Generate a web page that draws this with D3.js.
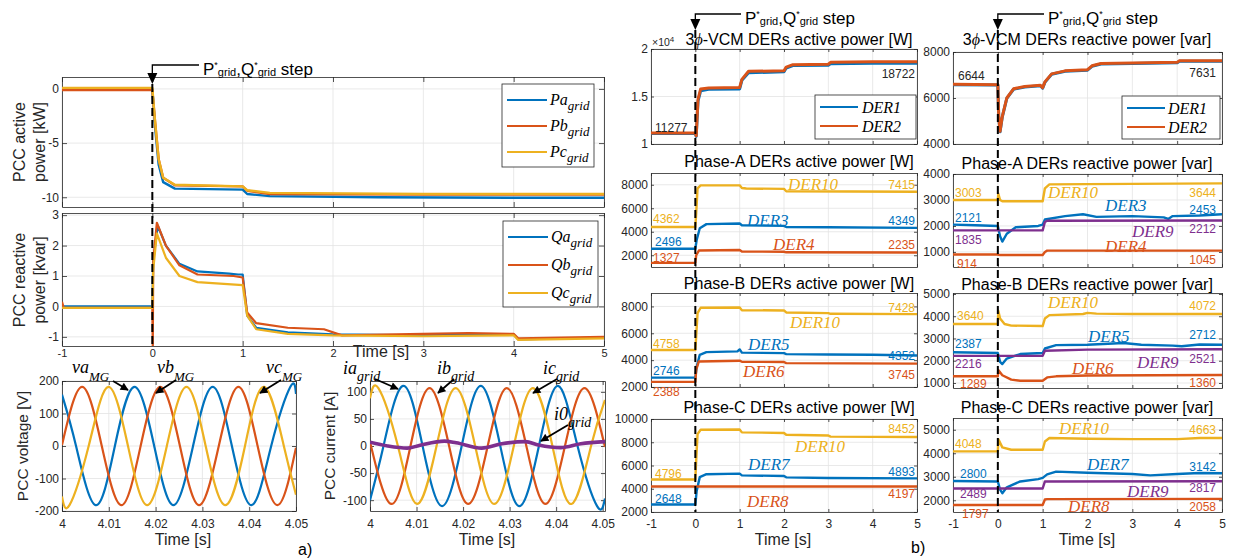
<!DOCTYPE html>
<html>
<head>
<meta charset="utf-8">
<script src="https://cdn.jsdelivr.net/npm/d3@7"></script>
<style>
body { margin: 0; background: #fff; }
svg { display: block; }
</style>
</head>
<body>
<svg id="fig" width="1236" height="558"></svg>
<script>
// ---------- data ----------
const time = [-1, 0, 1, 2, 3, 4, 5];

// a) PCC active power per phase [kW]
const Pa = [[-1,0],[0,-0.05],[0.03,-3.5],[0.07,-7],[0.12,-8.6],[0.25,-9.2],[1,-9.3],[1.05,-9.7],[1.3,-9.9],[2.5,-10.0],[4,-10.05],[5,-10.05]];
const Pb = [[-1,-0.1],[0,-0.1],[0.03,-3],[0.07,-6.5],[0.12,-8.2],[0.25,-8.9],[1,-9.0],[1.05,-9.4],[1.3,-9.7],[3,-9.75],[5,-9.75]];
const Pc = [[-1,0.1],[0,0.1],[0.03,-3],[0.07,-6.5],[0.12,-8.2],[0.25,-8.85],[1,-9.0],[1.05,-9.35],[1.3,-9.6],[3,-9.7],[5,-9.7]];
// a) PCC reactive power per phase [kvar]
const Qa = [[-1,0],[0,0],[0.01,1.5],[0.06,2.65],[0.15,2.0],[0.3,1.4],[0.5,1.15],[0.85,1.08],[0.95,1.05],[1,1.05],[1.05,-0.3],[1.15,-0.7],[1.5,-0.85],[2,-0.92],[3,-0.95],[4,-0.92],[4.05,-1.08],[5,-1.02]];
const Qb = [[-1,0.15],[-0.98,-0.05],[0,-0.05],[0.005,-1.3],[0.01,1.5],[0.05,2.75],[0.15,2.0],[0.3,1.35],[0.5,1.05],[0.9,1.0],[1,0.95],[1.05,-0.2],[1.15,-0.55],[1.5,-0.7],[1.9,-0.75],[2.1,-0.95],[3,-0.9],[3.5,-0.88],[4,-0.9],[4.05,-1.05],[5,-1.0]];
const Qc = [[-1,-0.05],[0,-0.05],[0.01,1.2],[0.05,2.4],[0.15,1.6],[0.3,1.0],[0.5,0.8],[1,0.7],[1.05,-0.3],[1.15,-0.75],[1.5,-0.9],[2,-0.95],[3,-0.98],[4,-0.95],[4.05,-1.1],[5,-1.05]];
const pTicks = [-10, -5, 0];
const qTicks = [-1, 0, 1, 2, 3];

// a) PCC voltage / current waveforms (peaks and zero crossings)
const cycTicks = [4, 4.01, 4.02, 4.03, 4.04, 4.05];
const vTicks = [-200, -100, 0, 100, 200];
const iTicks = [-100, -50, 0, 50, 100];
const va = [[4,158],[4.003,0],[4.0072,-182],[4.0113,0],[4.0155,182],[4.0197,0],[4.0238,-182],[4.028,0],[4.0322,182],[4.0363,0],[4.0405,-182],[4.0447,0],[4.0488,182],[4.05,160]];
const vb = [[4,3],[4.0043,182],[4.0085,0],[4.0127,-182],[4.0168,0],[4.021,182],[4.0252,0],[4.0293,-182],[4.0335,0],[4.0377,182],[4.0418,0],[4.046,-182],[4.05,-5]];
const vc = [[4,-155],[4.0016,-182],[4.0057,0],[4.0099,182],[4.0141,0],[4.0182,-182],[4.0224,0],[4.0266,182],[4.0307,0],[4.0349,-182],[4.0391,0],[4.0432,182],[4.0474,0],[4.05,-150]];
const ia = [[4,-100],[4.0029,0],[4.0071,111],[4.0113,0],[4.0155,-111],[4.0197,0],[4.0238,111],[4.028,0],[4.0321,-111],[4.0363,0],[4.0404,111],[4.0446,0],[4.0488,-111],[4.0505,-97]];
const ib = [[4,8],[4.0046,-107],[4.0087,0],[4.0128,107],[4.017,0],[4.0211,-107],[4.0253,0],[4.0294,107],[4.0336,0],[4.0377,-107],[4.0419,0],[4.0461,107],[4.0505,-2]];
const ic = [[4,88],[4.0018,107],[4.006,0],[4.0101,-107],[4.0143,0],[4.0184,107],[4.0226,0],[4.0267,-107],[4.0309,0],[4.035,107],[4.0392,0],[4.0433,-107],[4.0475,0],[4.0505,85]];
const i0 = [[4,7],[4.0038,0],[4.008,-4],[4.0106,1],[4.016,9],[4.0185,6],[4.024,-4],[4.0283,4],[4.0334,8],[4.0362,2],[4.041,-3],[4.0453,4],[4.0505,8]];

// b) 3-phase VCM DERs
const vcmP1 = [[-1,11100],[0,11100],[0.02,10800],[0.06,14500],[0.12,15600],[0.3,15750],[1,15800],[1.05,16700],[1.2,17500],[2,17600],[2.05,18000],[2.2,18250],[3,18300],[3.05,18450],[4,18500],[5,18500]];
const vcmP2 = [[-1,11150],[0,11150],[0.02,10850],[0.06,14700],[0.12,15800],[0.3,15900],[1,15950],[1.05,16800],[1.2,17650],[2,17700],[2.05,18100],[2.2,18350],[3,18400],[3.05,18600],[4,18650],[5,18650]];
const vcmQ2 = [[-1,6600],[0,6580],[0.02,5200],[0.05,4550],[0.1,5200],[0.2,6000],[0.35,6400],[0.6,6500],[0.95,6550],[1,6450],[1.05,6700],[1.2,7050],[1.5,7180],[2,7230],[2.1,7400],[2.3,7500],[3,7520],[4,7550],[4.05,7620],[5,7620]];
const vcmQ1 = [[-1,6580],[0,6560],[0.02,5180],[0.05,4530],[0.1,5180],[0.2,5980],[0.35,6380],[0.6,6480],[0.95,6530],[1,6430],[1.05,6680],[1.2,7030],[1.5,7160],[2,7210],[2.1,7380],[2.3,7480],[3,7500],[4,7530],[4.05,7600],[5,7600]];
const vcmPTicks = [10000, 15000, 20000];
const vcmQTicks = [4000, 6000, 8000];
const vcmPText = ['11277', '18722'];
const vcmQText = ['6644', '7631'];

// b) single-phase DERs active power [W]
const pA10 = [[-1,4400],[0,4400],[0.02,5600],[0.05,7700],[0.12,7950],[1,7950],[1.05,7720],[1.15,7680],[2,7650],[2.05,7450],[5,7400]];
const pA3 = [[-1,2550],[0,2550],[0.03,3300],[0.1,4300],[0.25,4650],[1,4700],[1.05,4550],[2,4500],[2.05,4400],[3,4380],[5,4330]];
const pA4 = [[-1,1350],[0,1350],[0.02,2000],[0.08,2400],[1,2450],[1.05,2320],[2,2300],[2.05,2250],[5,2240]];
const pB10 = [[-1,4750],[0,4750],[0.02,5800],[0.05,7500],[0.12,7900],[1,7920],[1.05,7720],[2,7700],[2.05,7550],[3,7500],[3.05,7450],[5,7430]];
const pB5 = [[-1,2700],[0,2700],[0.03,3500],[0.1,4400],[0.25,4600],[0.95,4650],[1,4800],[1.05,4560],[2,4520],[2.05,4450],[3,4420],[4,4400],[5,4350]];
const pB6 = [[-1,2380],[0,2380],[0.02,3300],[0.08,3900],[1,3960],[1.05,3880],[2,3860],[2.05,3780],[5,3740]];
const pC10 = [[-1,4800],[0,4800],[0.02,6500],[0.05,8700],[0.12,9080],[1,9100],[1.05,8850],[2,8800],[2.05,8650],[3,8580],[3.05,8480],[5,8450]];
const pC7 = [[-1,2640],[0,2640],[0.03,3800],[0.1,5000],[0.25,5250],[1,5300],[1.05,5150],[2,5100],[2.05,4980],[3,4930],[5,4890]];
const pC8 = [[-1,4200],[0,4200],[1,4200],[5,4200]];
const pATicks = [2000, 4000, 6000, 8000];
const pBTicks = [2000, 4000, 6000, 8000];
const pCTicks = [2000, 4000, 6000, 8000, 10000];
const pAText = ['4362', '2496', '1327', '7415', '4349', '2235'];
const pBText = ['4758', '2746', '2388', '7428', '4352', '3745'];
const pCText = ['4796', '2648', '8452', '4893', '4197'];

// b) single-phase DERs reactive power [var]
const qA10 = [[-1,3000],[0,3000],[0.01,3250],[0.05,3000],[0.1,2950],[1,2950],[1.05,3450],[1.15,3600],[2,3610],[3,3620],[5,3640]];
const qA3 = [[-1,2050],[-0.5,2030],[0,2000],[0.05,1600],[0.1,1400],[0.2,1700],[0.4,1950],[0.9,2000],[1,2050],[1.05,2250],[1.5,2380],[1.9,2450],[2.2,2350],[3,2380],[3.7,2330],[3.8,2270],[3.9,2380],[4.5,2400],[5,2450]];
const qA9 = [[-1,1830],[1,1830],[1.05,2150],[1.1,2200],[5,2210]];
const qA4 = [[-1,900],[0,900],[0.05,880],[1,880],[1.05,1000],[1.1,1050],[5,1050]];
const qB10 = [[-1,3650],[0,3650],[0.01,4250],[0.05,3900],[0.15,3650],[0.3,3580],[1,3560],[1.05,3900],[1.15,4050],[1.9,4100],[2,4150],[2.2,4120],[3,4100],[5,4100]];
const qB5 = [[-1,2380],[0,2350],[0.05,1950],[0.1,1850],[0.2,2100],[0.5,2300],[1,2350],[1.05,2550],[1.3,2700],[2,2720],[2.8,2800],[3.2,2720],[3.9,2680],[4.1,2650],[4.5,2730],[5,2720]];
const qB9 = [[-1,2220],[1,2220],[1.05,2450],[2,2500],[5,2520]];
const qB6 = [[-1,1300],[0,1300],[0.01,1580],[0.1,1350],[0.3,1150],[0.5,1100],[1,1100],[1.1,1250],[1.3,1300],[2,1340],[5,1360]];
const qC10 = [[-1,4080],[0,4080],[0.01,4600],[0.1,4250],[0.3,4150],[1,4150],[1.05,4500],[1.15,4650],[2,4620],[3,4600],[4,4600],[4.5,4650],[5,4650]];
const qC7 = [[-1,2820],[0,2800],[0.05,2450],[0.1,2300],[0.2,2550],[0.5,2800],[0.9,2900],[1,2950],[1.1,3100],[1.3,3220],[2,3170],[3,3120],[3.4,3060],[4,3120],[4.5,3160],[5,3150]];
const qC9 = [[-1,2500],[1,2500],[1.05,2800],[5,2810]];
const qC8 = [[-1,1800],[1,1800],[1.05,2030],[1.1,2050],[5,2060]];
const qATicks = [1000, 2000, 3000, 4000];
const qBTicks = [1000, 2000, 3000, 4000, 5000];
const qCTicks = [2000, 3000, 4000, 5000];
const qAText = ['3003', '2121', '1835', '914', '3644', '2453', '2212', '1045'];
const qBText = ['3640', '2387', '2216', '1289', '4072', '2712', '2521', '1360'];
const qCText = ['4048', '2800', '2489', '1797', '4663', '3142', '2817', '2058'];

// ---------- drawing ----------
const BLUE = '#0072BD', RED = '#D95319', YEL = '#EDB120', PUR = '#7E2F8E', INK = '#262626';
const SANS = '"Liberation Sans", Arial, Helvetica, sans-serif';
const SERIF = '"Liberation Serif", "Times New Roman", serif';

const svg = d3.select('#fig');
const defs = svg.append('defs');
defs.append('marker')
    .attr('id', 'ah')
    .attr('viewBox', '0 0 10 10')
    .attr('refX', 9).attr('refY', 5)
    .attr('markerWidth', 5).attr('markerHeight', 4.5)
    .attr('orient', 'auto')
    .append('path').attr('d', 'M0,0L10,5L0,10z').attr('fill', '#000');

let clipN = 0;
function styleAxis(sel, fs) {
    sel.attr('font-family', SANS).attr('font-size', fs).attr('color', INK);
    sel.select('.domain').attr('stroke-width', 0.8);
    sel.selectAll('.tick line').attr('stroke-width', 0.8);
}

function panel(o) {
    const x = d3.scaleLinear().domain(o.xd).range([o.l, o.r]);
    const y = d3.scaleLinear().domain(o.yd).range([o.b, o.t]);
    const g = svg.append('g');
    const id = 'clip' + (clipN++);
    defs.append('clipPath').attr('id', id).append('rect')
        .attr('x', o.l).attr('y', o.t).attr('width', o.r - o.l).attr('height', o.b - o.t);

    // grid
    g.append('g').selectAll('line').data(o.xt).join('line')
        .attr('x1', d => x(d)).attr('x2', d => x(d)).attr('y1', o.t).attr('y2', o.b)
        .attr('stroke', '#e3e3e3').attr('stroke-width', 0.8);
    g.append('g').selectAll('line').data(o.yt).join('line')
        .attr('y1', d => y(d)).attr('y2', d => y(d)).attr('x1', o.l).attr('x2', o.r)
        .attr('stroke', '#e3e3e3').attr('stroke-width', 0.8);

    const tk = o.tk || 4, fs = o.fs || 12;
    const fmtX = o.xlab ? (o.xfmt || (d => String(d))) : () => '';
    g.append('g').attr('transform', `translate(0,${o.b})`)
        .call(d3.axisBottom(x).tickValues(o.xt).tickSizeInner(-tk).tickSizeOuter(0).tickPadding(o.xpad || 4).tickFormat(fmtX))
        .call(styleAxis, o.xfs || fs);
    g.append('g').attr('transform', `translate(0,${o.t})`)
        .call(d3.axisTop(x).tickValues(o.xt).tickSizeInner(-tk).tickSizeOuter(0).tickFormat(() => ''))
        .call(styleAxis, fs);
    g.append('g').attr('transform', `translate(${o.l},0)`)
        .call(d3.axisLeft(y).tickValues(o.yt).tickSizeInner(-tk).tickSizeOuter(0).tickPadding(3).tickFormat(o.yfmt || (d => String(d))))
        .call(styleAxis, fs);
    g.append('g').attr('transform', `translate(${o.r},0)`)
        .call(d3.axisRight(y).tickValues(o.yt).tickSizeInner(-tk).tickSizeOuter(0).tickFormat(() => ''))
        .call(styleAxis, fs);

    const line = d3.line().x(d => x(d[0])).y(d => y(d[1])).curve(o.curve || d3.curveLinear);
    const lg = g.append('g').attr('clip-path', `url(#${id})`);
    o.series.forEach(s => {
        lg.append('path').attr('d', (s.curve ? line.curve(s.curve) : line)(s.data))
            .attr('fill', 'none').attr('stroke', s.c).attr('stroke-width', s.w || 2)
            .attr('stroke-linejoin', 'round');
        line.curve(o.curve || d3.curveLinear);
    });
    return { x, y };
}

function txt(x, y, s, o = {}) {
    return svg.append('text').attr('x', x).attr('y', y)
        .attr('font-family', o.serif ? SERIF : SANS)
        .attr('font-style', o.serif ? 'italic' : null)
        .attr('font-size', o.size || 12)
        .attr('fill', o.color || INK)
        .attr('text-anchor', o.anchor || 'start')
        .text(s);
}

function subTxt(x, y, main, sub, size, subSize, dy, color) {
    const t = svg.append('text').attr('x', x).attr('y', y)
        .attr('font-family', SERIF).attr('font-style', 'italic')
        .attr('font-size', size).attr('fill', color || '#000');
    t.append('tspan').text(main);
    t.append('tspan').attr('font-size', subSize).attr('dy', dy).text(sub);
    return t;
}

function yLabel(x, y, lines, size, gap) {
    const t = svg.append('text').attr('transform', `translate(${x},${y}) rotate(-90)`)
        .attr('text-anchor', 'middle').attr('font-family', SANS).attr('font-size', size).attr('fill', INK);
    lines.forEach((s, i) => t.append('tspan').attr('x', 0).attr('dy', i ? gap : 0).text(s));
}

function stepNote(x0, yLine, tip, tx, ty) {
    svg.append('path').attr('d', `M${tx - 4},${yLine}H${x0}V${tip - 10}`)
        .attr('fill', 'none').attr('stroke', '#000').attr('stroke-width', 1.3);
    svg.append('path').attr('d', `M${x0 - 5},${tip - 11}H${x0 + 5}L${x0},${tip}Z`).attr('fill', '#000');
    const t = svg.append('text').attr('x', tx).attr('y', ty).attr('font-family', SANS)
        .attr('font-size', 17).attr('fill', '#000');
    t.append('tspan').text('P');
    t.append('tspan').attr('font-size', 9).attr('dy', -7).text('*');
    t.append('tspan').attr('font-size', 11).attr('dy', 8).text('grid');
    t.append('tspan').attr('dy', -1).text(',Q');
    t.append('tspan').attr('font-size', 9).attr('dy', -7).text('*');
    t.append('tspan').attr('font-size', 11).attr('dy', 8).text('grid');
    t.append('tspan').attr('dy', -1).text(' step');
}

function legendBox(x0, y0, x1, y1, items, lx0, lx1, tx) {
    svg.append('rect').attr('x', x0).attr('y', y0).attr('width', x1 - x0).attr('height', y1 - y0)
        .attr('fill', '#fff').attr('stroke', INK).attr('stroke-width', 0.8);
    items.forEach(it => {
        svg.append('line').attr('x1', lx0).attr('x2', lx1).attr('y1', it.y).attr('y2', it.y)
            .attr('stroke', it.c).attr('stroke-width', 2.2);
        if (it.sub) subTxt(tx, it.y + 5, it.main, it.sub, 16, 13, 5);
        else txt(tx, it.y + 6, it.main, { serif: true, size: 16, color: '#000' });
    });
}

function arrow(x1, y1, x2, y2) {
    svg.append('line').attr('x1', x1).attr('y1', y1).attr('x2', x2).attr('y2', y2)
        .attr('stroke', '#000').attr('stroke-width', 1.8).attr('marker-end', 'url(#ah)');
}

// ----- a) left column -----
const LT = panel({ l: 62, r: 604, t: 77, b: 207, xd: [-1, 5], yd: [-10.9, 1.1], xt: time, yt: pTicks, tk: 5,
    series: [{ data: Pa, c: BLUE, w: 2.4 }, { data: Pb, c: RED, w: 2.4 }, { data: Pc, c: YEL, w: 2.4 }] });
const LM = panel({ l: 62, r: 604, t: 213, b: 346, xd: [-1, 5], yd: [-1.3, 3.07], xt: time, yt: qTicks, tk: 5,
    xlab: true, xfs: 11, xpad: 3,
    series: [{ data: Qa, c: BLUE, w: 2.2 }, { data: Qb, c: RED, w: 2.2 }, { data: Qc, c: YEL, w: 2.2 }] });
legendBox(502, 84, 594, 167, [
    { y: 100, c: BLUE, main: 'Pa', sub: 'grid' },
    { y: 126, c: RED, main: 'Pb', sub: 'grid' },
    { y: 152, c: YEL, main: 'Pc', sub: 'grid' }], 507, 547, 550);
legendBox(503, 221, 598, 307, [
    { y: 237, c: BLUE, main: 'Qa', sub: 'grid' },
    { y: 265, c: RED, main: 'Qb', sub: 'grid' },
    { y: 293, c: YEL, main: 'Qc', sub: 'grid' }], 508, 548, 551);
yLabel(25, 142, ['PCC active', 'power [kW]'], 16, 20);
yLabel(25, 280, ['PCC reactive', 'power [kvar]'], 16, 20);
txt(381, 357, 'Time [s]', { size: 16, anchor: 'middle' });

const LV = panel({ l: 62, r: 296, t: 381, b: 511, xd: [4, 4.05], yd: [-200, 200], xt: cycTicks, yt: vTicks,
    xlab: true, xpad: 8, curve: d3.curveNatural,
    series: [{ data: va, c: BLUE, w: 2.2 }, { data: vb, c: RED, w: 2.2 }, { data: vc, c: YEL, w: 2.2 }] });
const LI = panel({ l: 370, r: 605, t: 381, b: 511, xd: [4, 4.0505], yd: [-120, 120], xt: cycTicks, yt: iTicks,
    xlab: true, xpad: 8, curve: d3.curveNatural,
    series: [{ data: ia, c: BLUE, w: 2.2 }, { data: ib, c: RED, w: 2.2 }, { data: ic, c: YEL, w: 2.2 },
             { data: i0, c: PUR, w: 3.6, curve: d3.curveMonotoneX }] });
yLabel(28, 446, ['PCC voltage [V]'], 15.5, 0);
yLabel(335, 446, ['PCC current [A]'], 15.5, 0);
txt(183, 545, 'Time [s]', { size: 16, anchor: 'middle' });
txt(487, 545, 'Time [s]', { size: 16, anchor: 'middle' });
txt(298, 555, 'a)', { size: 16, color: '#000' });

subTxt(72, 373, 'va', 'MG', 18, 13, 8);
subTxt(157, 373, 'vb', 'MG', 18, 13, 8);
subTxt(266, 373, 'vc', 'MG', 18, 13, 8);
arrow(113, 381, 128, 390);
arrow(176, 380, 156, 393);
arrow(281, 380, 260, 393);
subTxt(343, 374, 'ia', 'grid', 18, 14, 7);
subTxt(437, 374, 'ib', 'grid', 18, 14, 7);
subTxt(543, 374, 'ic', 'grid', 18, 14, 7);
subTxt(554, 420, 'i0', 'grid', 18, 14, 7);
arrow(375, 379, 398, 389);
arrow(454, 379, 438, 393);
arrow(557, 379, 533, 393);
arrow(568, 425, 541, 441);

// dashed step markers and notes (left)
svg.append('line').attr('x1', LT.x(0)).attr('x2', LT.x(0)).attr('y1', 84).attr('y2', 346)
    .attr('stroke', '#000').attr('stroke-width', 2).attr('stroke-dasharray', '8,4');
stepNote(LT.x(0), 65, 84, 203, 75);

// ----- b) column 1: active power -----
const C1 = { l: 651, r: 917 };
const R1 = panel({ ...C1, t: 49, b: 144, xd: [-1, 5], yd: [10000, 20000], xt: time, yt: vcmPTicks, tk: 3,
    yfmt: d => String(d / 10000),
    series: [{ data: vcmP1, c: BLUE, w: 3 }, { data: vcmP2, c: RED, w: 3 }] });
const RA = panel({ ...C1, t: 173, b: 267, xd: [-1, 5], yd: [1000, 9000], xt: time, yt: pATicks, tk: 3,
    series: [{ data: pA10, c: YEL, w: 2.4 }, { data: pA3, c: BLUE, w: 2.4 }, { data: pA4, c: RED, w: 2.4 }] });
const RB = panel({ ...C1, t: 293, b: 387, xd: [-1, 5], yd: [2000, 9000], xt: time, yt: pBTicks, tk: 3,
    series: [{ data: pB10, c: YEL, w: 2.4 }, { data: pB5, c: BLUE, w: 2.4 }, { data: pB6, c: RED, w: 2.4 }] });
const RC = panel({ ...C1, t: 419, b: 512, xd: [-1, 5], yd: [2000, 10000], xt: time, yt: pCTicks, tk: 3,
    xlab: true, xpad: 7,
    series: [{ data: pC10, c: YEL, w: 2.4 }, { data: pC7, c: BLUE, w: 2.4 }, { data: pC8, c: RED, w: 2.4 }] });

// ----- b) column 2: reactive power -----
const C2 = { l: 953, r: 1222 };
const S1 = panel({ ...C2, t: 52, b: 144, xd: [-1, 5], yd: [4000, 8000], xt: time, yt: vcmQTicks, tk: 3,
    series: [{ data: vcmQ1, c: BLUE, w: 3 }, { data: vcmQ2, c: RED, w: 3 }] });
const SA = panel({ ...C2, t: 174, b: 267, xd: [-1, 5], yd: [420, 4000], xt: time, yt: qATicks, tk: 3,
    series: [{ data: qA10, c: YEL, w: 2.4 }, { data: qA3, c: BLUE, w: 2.4 }, { data: qA9, c: PUR, w: 2.4 }, { data: qA4, c: RED, w: 2.4 }] });
const SB = panel({ ...C2, t: 293, b: 388, xd: [-1, 5], yd: [775, 5045], xt: time, yt: qBTicks, tk: 3,
    series: [{ data: qB10, c: YEL, w: 2.4 }, { data: qB5, c: BLUE, w: 2.4 }, { data: qB9, c: PUR, w: 2.4 }, { data: qB6, c: RED, w: 2.4 }] });
const SC = panel({ ...C2, t: 418, b: 512, xd: [-1, 5], yd: [1500, 5500], xt: time, yt: qCTicks, tk: 3,
    xlab: true, xpad: 7,
    series: [{ data: qC10, c: YEL, w: 2.4 }, { data: qC7, c: BLUE, w: 2.4 }, { data: qC9, c: PUR, w: 2.4 }, { data: qC8, c: RED, w: 2.4 }] });

// titles
function phiTitle(cx, y, rest) {
    const t = svg.append('text').attr('x', cx).attr('y', y).attr('text-anchor', 'middle')
        .attr('font-family', SANS).attr('font-size', 16).attr('fill', '#000');
    t.append('tspan').text('3');
    t.append('tspan').attr('font-family', SERIF).attr('font-style', 'italic').text('\u03D5');
    t.append('tspan').text(rest);
}
phiTitle(799, 45, '-VCM DERs active power [W]');
phiTitle(1087, 45, '-VCM DERs reactive power [var]');
txt(799, 167, 'Phase-A DERs active power  [W]', { size: 16, anchor: 'middle', color: '#000' });
txt(799, 289, 'Phase-B DERs active power [W]', { size: 16, anchor: 'middle', color: '#000' });
txt(799, 413, 'Phase-C DERs active power [W]', { size: 16, anchor: 'middle', color: '#000' });
txt(1087, 169, 'Phase-A DERs reactive power [var]', { size: 16, anchor: 'middle', color: '#000' });
txt(1087, 290, 'Phase-B DERs reactive power [var]', { size: 16, anchor: 'middle', color: '#000' });
txt(1087, 413, 'Phase-C DERs reactive power [var]', { size: 16, anchor: 'middle', color: '#000' });

const e4 = txt(652, 46, '\u00D710', { size: 10.5 });
e4.append('tspan').attr('font-size', 8).attr('dy', -4).text('4');

legendBox(815, 95, 916, 139, [{ y: 107, c: BLUE, main: 'DER1' }, { y: 126, c: RED, main: 'DER2' }], 820, 858, 862);
legendBox(1122, 96, 1220, 139, [{ y: 108, c: BLUE, main: 'DER1' }, { y: 127, c: RED, main: 'DER2' }], 1127, 1165, 1168);

txt(783, 545, 'Time [s]', { size: 16, anchor: 'middle' });
txt(1087, 545, 'Time [s]', { size: 16, anchor: 'middle' });
txt(911, 553, 'b)', { size: 16, color: '#000' });

// value labels
txt(655, 132, vcmPText[0], {});
txt(915, 78, vcmPText[1], { anchor: 'end' });
txt(958, 80, vcmQText[0], {});
txt(1216, 77, vcmQText[1], { anchor: 'end' });

[[653, 223, YEL, 'start'], [655, 246, BLUE, 'start'], [653, 262, RED, 'start'],
 [915, 189, YEL, 'end'], [915, 225, BLUE, 'end'], [915, 249, RED, 'end']]
    .forEach((p, i) => txt(p[0], p[1], pAText[i], { color: p[2], anchor: p[3] }));
[[653, 348, YEL, 'start'], [653, 375, BLUE, 'start'], [653, 396, RED, 'start'],
 [915, 312, YEL, 'end'], [915, 360, BLUE, 'end'], [915, 379, RED, 'end']]
    .forEach((p, i) => txt(p[0], p[1], pBText[i], { color: p[2], anchor: p[3] }));
[[655, 478, YEL, 'start'], [655, 503, BLUE, 'start'],
 [915, 433, YEL, 'end'], [915, 476, BLUE, 'end'], [915, 498, RED, 'end']]
    .forEach((p, i) => txt(p[0], p[1], pCText[i], { color: p[2], anchor: p[3] }));

[[955, 197, YEL, 'start'], [955, 222, BLUE, 'start'], [955, 244, PUR, 'start'], [957, 268, RED, 'start'],
 [1216, 197, YEL, 'end'], [1216, 214, BLUE, 'end'], [1216, 233, PUR, 'end'], [1216, 264, RED, 'end']]
    .forEach((p, i) => txt(p[0], p[1], qAText[i], { color: p[2], anchor: p[3] }));
[[957, 320, YEL, 'start'], [955, 348, BLUE, 'start'], [955, 368, PUR, 'start'], [960, 388, RED, 'start'],
 [1216, 310, YEL, 'end'], [1216, 339, BLUE, 'end'], [1216, 363, PUR, 'end'], [1216, 387, RED, 'end']]
    .forEach((p, i) => txt(p[0], p[1], qBText[i], { color: p[2], anchor: p[3] }));
[[955, 448, YEL, 'start'], [960, 478, BLUE, 'start'], [960, 498, PUR, 'start'], [962, 518, RED, 'start'],
 [1216, 434, YEL, 'end'], [1216, 471, BLUE, 'end'], [1216, 492, PUR, 'end'], [1216, 511, RED, 'end']]
    .forEach((p, i) => txt(p[0], p[1], qCText[i], { color: p[2], anchor: p[3] }));

// DER name labels
const der = (x, y, s, c) => txt(x, y, s, { serif: true, size: 17, color: c });
der(788, 190, 'DER10', YEL); der(747, 226, 'DER3', BLUE); der(773, 250, 'DER4', RED);
der(790, 328, 'DER10', YEL); der(748, 350, 'DER5', BLUE); der(743, 377, 'DER6', RED);
der(795, 452, 'DER10', YEL); der(748, 470, 'DER7', BLUE); der(747, 507, 'DER8', RED);
der(1048, 198, 'DER10', YEL); der(1105, 211, 'DER3', BLUE); der(1132, 237, 'DER9', PUR); der(1105, 252, 'DER4', RED);
der(1048, 308, 'DER10', YEL); der(1088, 342, 'DER5', BLUE); der(1137, 368, 'DER9', PUR); der(1072, 374, 'DER6', RED);
der(1059, 434, 'DER10', YEL); der(1087, 470, 'DER7', BLUE); der(1127, 497, 'DER9', PUR); der(1068, 512, 'DER8', RED);

// dashed step markers and notes (right)
[R1.x(0), S1.x(0)].forEach(x0 => {
    svg.append('line').attr('x1', x0).attr('x2', x0).attr('y1', 30).attr('y2', 512)
        .attr('stroke', '#000').attr('stroke-width', 2).attr('stroke-dasharray', '8,4');
});
stepNote(R1.x(0), 14, 30, 745, 24);
stepNote(S1.x(0), 14, 30, 1048, 24);
</script>
</body>
</html>
